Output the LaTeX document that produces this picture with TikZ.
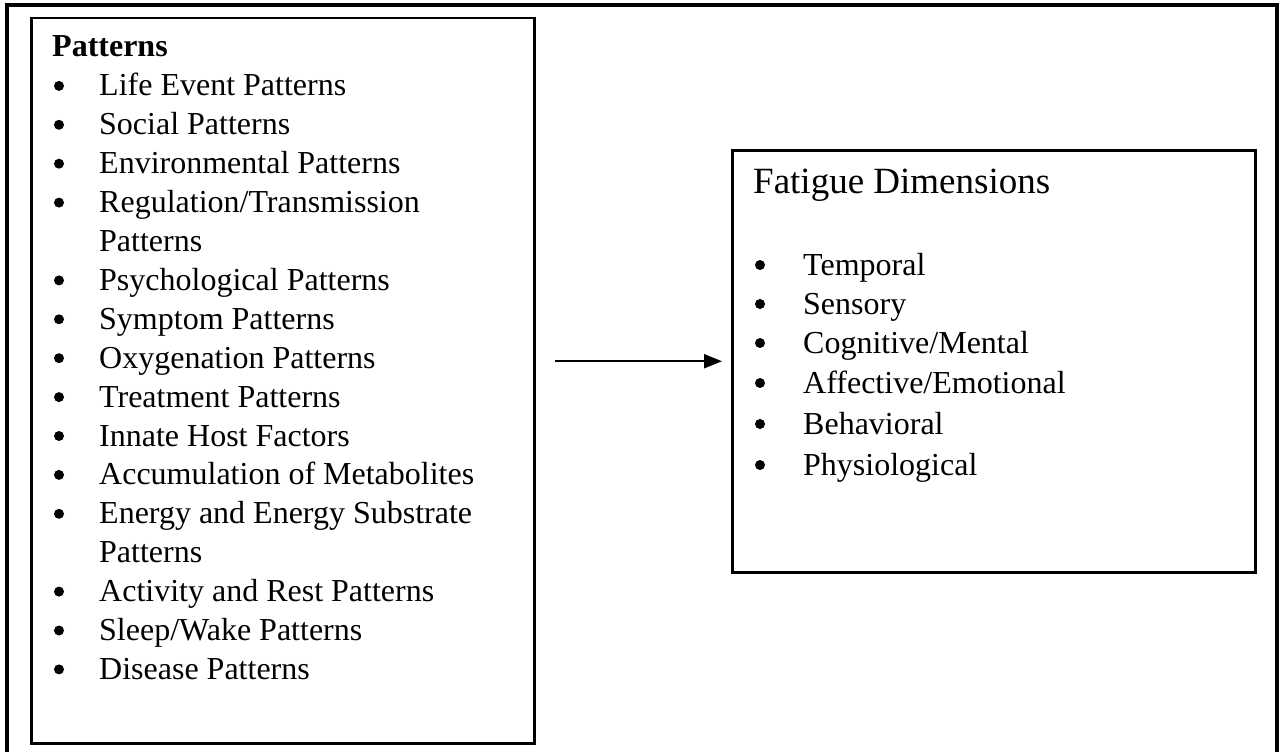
\documentclass[tikz,border=0pt]{standalone}
\usepackage{fontspec}
\setmainfont{Liberation Serif}
\usetikzlibrary{arrows.meta}
\begin{document}
\begin{tikzpicture}[x=1bp,y=-1bp,
  box/.style={draw, line width=2.5bp, rectangle, inner sep=0pt, anchor=north west},
  itemtext/.style={anchor=base west, inner sep=0pt, font=\fontsize{32bp}{38bp}\selectfont},
  dot/.style={circle, fill, inner sep=0pt, minimum size=10bp},
  headtext/.style={anchor=base west, inner sep=0pt, font=\fontsize{32bp}{38bp}\selectfont\bfseries},
  titletext/.style={anchor=base west, inner sep=0pt, font=\fontsize{37bp}{44bp}\selectfont},
  arrowline/.style={line width=2bp, -{Triangle[length=18bp,width=14bp]}}]
\useasboundingbox (0,0) rectangle (1282,752);
% outer frame
\draw[line width=4.5bp] (7,752) -- (7,5) -- (1277,5) -- (1277,752);
% boxes
\node[box, minimum width=503bp, minimum height=725bp] (L) at (30,17) {};
\node[box, minimum width=523bp, minimum height=422bp] (R) at (731,149) {};
% left list
\node[headtext] (lh) at (52,57) {Patterns};
\foreach \n/\yy/\t in {
  1/95.9/{Life Event Patterns},
  2/134.8/{Social Patterns},
  3/173.7/{Environmental Patterns},
  4/212.6/{Regulation/Transmission},
  6/290.4/{Psychological Patterns},
  7/329.3/{Symptom Patterns},
  8/368.2/{Oxygenation Patterns},
  9/407.1/{Treatment Patterns},
  10/446/{Innate Host Factors},
  11/484.9/{Accumulation of Metabolites},
  12/523.8/{Energy and Energy Substrate},
  14/601.6/{Activity and Rest Patterns},
  15/640.5/{Sleep/Wake Patterns},
  16/679.4/{Disease Patterns}}{
  \node[dot] (lb\n) at (59,{\yy-10}) {};
  \node[itemtext] (lt\n) at (99,\yy) {\t};
}
\node[itemtext] (lt5) at (99,251.5) {Patterns};
\node[itemtext] (lt13) at (99,562.7) {Patterns};
% right list
\node[titletext] (rh) at (753,193) {Fatigue Dimensions};
\foreach \n/\yy/\t in {
  1/275/{Temporal},
  2/314/{Sensory},
  3/353/{Cognitive/Mental},
  4/393/{Affective/Emotional},
  5/434/{Behavioral},
  6/475/{Physiological}}{
  \node[dot] (rb\n) at (760,{\yy-10}) {};
  \node[itemtext] (rt\n) at (803,\yy) {\t};
}
% arrow
\draw[arrowline, shorten <=19bp, shorten >=9bp] (L.east |- R.west) -- (R.west);
\end{tikzpicture}
\end{document}
